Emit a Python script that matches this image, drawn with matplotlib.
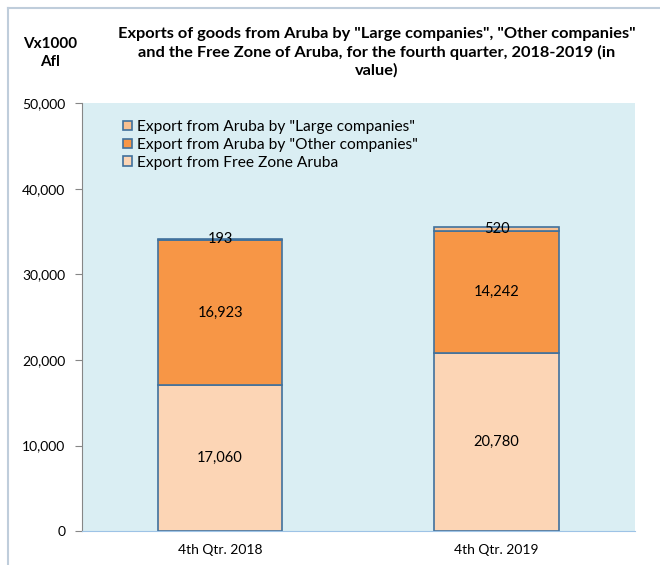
import matplotlib.pyplot as plt
from matplotlib.lines import Line2D

plt.rcParams['font.family'] = ['Lato', 'DejaVu Sans']

categories = ['4th Qtr. 2018', '4th Qtr. 2019']
free_zone = [17060, 20780]
other_companies = [16923, 14242]
large_companies = [193, 520]

series_names = ['Export from Free Zone Aruba',
                'Export from Aruba by "Other companies"',
                'Export from Aruba by "Large companies"']
colors = ['#FCD5B5', '#F79646', '#FAC090']
edge = '#41719C'

fig = plt.figure(figsize=(6.6, 5.65), dpi=100)
ax = fig.add_axes([0.124, 0.06, 0.838, 0.7575])
ax.set_facecolor('#DAEEF3')

x = range(len(categories))
bottom = [0, 0]
for vals, col, name in zip([free_zone, other_companies, large_companies], colors, series_names):
    ax.bar(x, vals, width=0.45, bottom=bottom, color=col, edgecolor=edge,
           linewidth=1.2, label=name)
    for xi, v, b0 in zip(x, vals, bottom):
        ax.text(xi, b0 + v / 2, f'{v:,}', ha='center', va='center', fontsize=10.5)
    bottom = [b0 + v for b0, v in zip(bottom, vals)]

ax.set_xlim(-0.5, 1.5)
ax.set_ylim(0, 50000)
ax.set_yticks(range(0, 50001, 10000))
ax.set_yticklabels([f'{t:,}' for t in range(0, 50001, 10000)], fontsize=10)
ax.set_xticks(list(x))
ax.set_xticklabels(categories, fontsize=10)
ax.tick_params(axis='x', length=0, pad=9)
ax.tick_params(axis='y', length=5, color='#868686', pad=7)
for s in ['top', 'right']:
    ax.spines[s].set_visible(False)
ax.spines['left'].set_color('#868686')
ax.spines['bottom'].set_color('#9DC3E6')

handles, labels = ax.get_legend_handles_labels()
ax.legend(handles[::-1], labels[::-1], loc='upper left', bbox_to_anchor=(0.063, 0.975),
          frameon=False, fontsize=11.2, handlelength=0.6, handleheight=0.6,
          handletextpad=0.3, labelspacing=0.25, borderaxespad=0)

fig.text(0.571, 0.952, 'Exports of goods from Aruba by "Large companies", "Other companies"\n'
         'and the Free Zone of Aruba, for the fourth quarter, 2018-2019 (in\nvalue)',
         ha='center', va='top', fontsize=11.8, fontweight='bold', linespacing=1.3)
fig.text(0.076, 0.935, 'Vx1000\nAfl', ha='center', va='top', fontsize=11,
         fontweight='bold', linespacing=1.4)

# outer chart border
fig.add_artist(Line2D([0.012, 0.012], [0, 0.986], color='#BFCDDB', linewidth=1.5))
fig.add_artist(Line2D([0.012, 1.0], [0.986, 0.986], color='#BFCDDB', linewidth=1.5))

fig.savefig('out.png', dpi=100)
